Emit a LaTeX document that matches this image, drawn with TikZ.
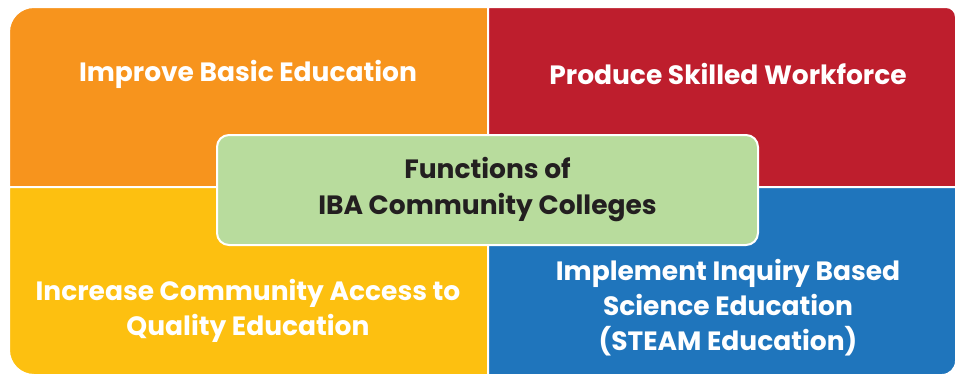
\documentclass[tikz,border=0pt]{standalone}
\usepackage{fontspec}
\setmainfont{Poppins}
\usepackage{tikz}
\usetikzlibrary{positioning}
\definecolor{naranja}{HTML}{F7941D}
\definecolor{rojo}{HTML}{BE1E2D}
\definecolor{amarillo}{HTML}{FDC010}
\definecolor{azul}{HTML}{1F75BC}
\definecolor{verde}{HTML}{B8DC9D}
\definecolor{tinta}{HTML}{231F20}

\begin{document}
\begin{tikzpicture}[
  x=1pt, y=-1pt,
  quad/.style={draw=white, line width=2pt},
  label/.style={text=white, font=\bfseries\fontsize{26.5}{35}\selectfont, align=center},
  centro/.style={rectangle, rounded corners=12pt, draw=white, line width=2pt, fill=verde, minimum width=541pt, minimum height=110pt, align=center, text=tinta, font=\bfseries\fontsize{26.5}{36}\selectfont}
]
\useasboundingbox (0,0) rectangle (956,375);
% quadrants
\filldraw[quad, fill=naranja] (488,187) -- (9,187) [rounded corners=25pt] -- (9,7) [sharp corners] -- (488,7) -- cycle;
\filldraw[quad, fill=rojo] (488,187) -- (488,7) [rounded corners=10pt] -- (956,7) [sharp corners] -- (956,187) -- cycle;
\filldraw[quad, fill=amarillo] (488,187) -- (9,187) [rounded corners=25pt] -- (9,375) [sharp corners] -- (488,375) -- cycle;
\filldraw[quad, fill=azul] (488,187) -- (956,187) [rounded corners=14pt] -- (956,375) [sharp corners] -- (488,375) -- cycle;
\node[label] (basic) at (248,74) {Improve Basic Education};
\node[label] (skilled) at (728,74) {Produce Skilled Workforce};
\node[label] (access) at (248,311) {Increase Community Access to\\Quality Education};
\node[label] (inquiry) at (728,308) {Implement Inquiry Based\\Science Education\\(STEAM Education)};
\node[centro] (func) at (487.5,190) {Functions of\\IBA Community Colleges};
\end{tikzpicture}
\end{document}
